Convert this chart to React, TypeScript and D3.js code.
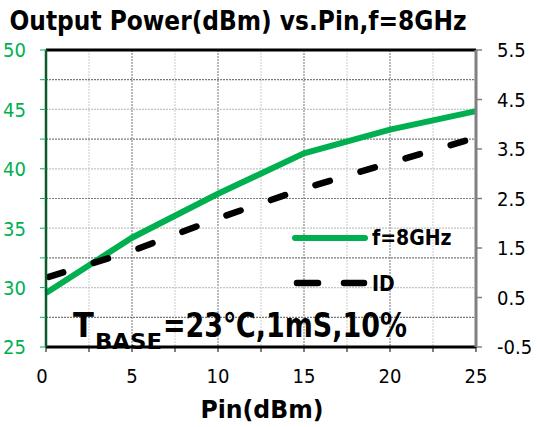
import React from 'react'
import * as d3 from 'd3'

// Pin (dBm) sample points
const pin = [0, 5, 10, 15, 20, 25]
// output power, dBm (left axis)
const poutValues = [29.55, 34.2, 37.9, 41.3, 43.3, 44.85]
// drain current, A (right axis)
const idValues = [0.9, 1.44, 2.1, 2.7, 3.22, 3.73]

const xTicks = [0, 5, 10, 15, 20, 25]
const leftTicks = [25, 30, 35, 40, 45, 50]
const rightTicks = [-0.5, 0.5, 1.5, 2.5, 3.5, 4.5, 5.5]

const font = "'DejaVu Sans Condensed', 'DejaVu Sans', Verdana, sans-serif"

export default function App() {
  const width = 537
  const height = 427
  const margin = { top: 50, right: 61, bottom: 80, left: 46 }
  const x0 = margin.left
  const x1 = width - margin.right
  const y0 = height - margin.bottom
  const y1 = margin.top

  const xScale = d3.scaleLinear().domain([0, 25]).range([x0, x1])
  const yLeft = d3.scaleLinear().domain([25, 50]).range([y0, y1])
  const yRight = d3.scaleLinear().domain([-0.5, 5.5]).range([y0, y1])

  const poutLine = d3.line<number>()
    .x((d, i) => xScale(pin[i]))
    .y(d => yLeft(d))

  const idLine = d3.line<number>()
    .x((d, i) => xScale(pin[i]))
    .y(d => yRight(d))

  const gridSteps = d3.range(0, 25.01, 2.5)
  const hGrid = d3.range(27.5, 50, 2.5)
  const green = '#00B050'

  return (
    <svg width={width} height={height} style={{ position: 'absolute', left: 0, top: 0 }}>
      <rect width={width} height={height} fill="white" />

      {/* grid */}
      <g>
        {gridSteps.slice(1, -1).map(v => (
          <line key={'v' + v} x1={xScale(v)} x2={xScale(v)} y1={y1} y2={y0}
            stroke={v % 5 === 0 ? '#8c8c8c' : '#d4d4d4'} strokeWidth={1.2} strokeDasharray="2,1" />
        ))}
        {hGrid.map(v => (
          <line key={'h' + v} x1={x0} x2={x1} y1={yLeft(v)} y2={yLeft(v)}
            stroke={v % 5 === 0 ? '#c4c4c4' : '#7a7a7a'} strokeWidth={1.2} strokeDasharray="2,1" />
        ))}
      </g>

      {/* series */}
      <path d={poutLine(poutValues) || ''} fill="none" stroke={green} strokeWidth={6} />
      <path d={idLine(idValues) || ''} fill="none" stroke="black" strokeWidth={6.5}
        strokeLinecap="round" strokeDasharray="15,32" strokeDashoffset={-3} />

      {/* frame */}
      <line x1={x0} x2={x1} y1={y1} y2={y1} stroke="black" strokeWidth={3} />
      <line x1={x0} x2={x1} y1={y0} y2={y0} stroke="black" strokeWidth={3} />
      <line x1={x1} x2={x1} y1={y1} y2={y0} stroke="#808080" strokeWidth={3} />
      <line x1={x0} x2={x0} y1={y1} y2={y0} stroke="#0B5A2E" strokeWidth={2.5} />

      {/* left axis */}
      <g>
        {d3.range(25, 50.01, 2.5).map(v => (
          <line key={'lt' + v} x1={x0 - 6} x2={x0} y1={yLeft(v)} y2={yLeft(v)} stroke={green} strokeWidth={1} />
        ))}
        {leftTicks.map(v => (
          <text key={'ll' + v} x={26} y={yLeft(v)} dy="0.37em" textAnchor="end"
            fontFamily={font} fontSize={20} fill={green}>{v}</text>
        ))}
      </g>

      {/* right axis */}
      <g>
        {rightTicks.map(v => (
          <line key={'rt' + v} x1={x1} x2={x1 + 6} y1={yRight(v)} y2={yRight(v)} stroke="#808080" strokeWidth={1.5} />
        ))}
        {rightTicks.map(v => (
          <text key={'rl' + v} x={x1 + 21} y={yRight(v)} dy="0.37em" textAnchor="start"
            fontFamily={font} fontSize={20} fill="black">{v}</text>
        ))}
      </g>

      {/* bottom axis */}
      <g>
        {gridSteps.map(v => (
          <line key={'bt' + v} x1={xScale(v)} x2={xScale(v)} y1={y0} y2={y0 + 5} stroke="black" strokeWidth={1} />
        ))}
        {xTicks.map(v => (
          <text key={'bl' + v} x={xScale(v) - (v === 0 ? 4 : 0)} y={383} textAnchor="middle"
            fontFamily={font} fontSize={20} fill="black">{v}</text>
        ))}
      </g>

      {/* titles */}
      <text x={238} y={30} textAnchor="middle" fontFamily={font} fontWeight="bold" fontSize={27}
        textLength={457} lengthAdjust="spacingAndGlyphs">Output Power(dBm) vs.Pin,f=8GHz</text>
      <text x={262} y={418} textAnchor="middle" fontFamily={font} fontWeight="bold" fontSize={25}
        textLength={123} lengthAdjust="spacingAndGlyphs">Pin(dBm)</text>

      {/* legend */}
      <line x1={295} x2={365} y1={238} y2={238} stroke={green} strokeWidth={6} strokeLinecap="round" />
      <text x={372} y={245} fontFamily={font} fontWeight="bold" fontSize={21}>f=8GHz</text>
      <line x1={297} x2={318} y1={283} y2={283} stroke="black" strokeWidth={6.5} strokeLinecap="round" />
      <line x1={344} x2={364} y1={283} y2={283} stroke="black" strokeWidth={6.5} strokeLinecap="round" />
      <text x={372} y={291} fontFamily={font} fontWeight="bold" fontSize={21}>ID</text>

      {/* annotation */}
      <text x={73} y={337} fontFamily={font} fontWeight="bold" fontSize={34}>T</text>
      <text x={95} y={349} fontFamily={font} fontWeight="bold" fontSize={21}
        textLength={67} lengthAdjust="spacingAndGlyphs">BASE</text>
      <text x={163} y={337} fontFamily={font} fontWeight="bold" fontSize={34}
        textLength={244} lengthAdjust="spacingAndGlyphs">=23℃,1mS,10%</text>
    </svg>
  )
}
